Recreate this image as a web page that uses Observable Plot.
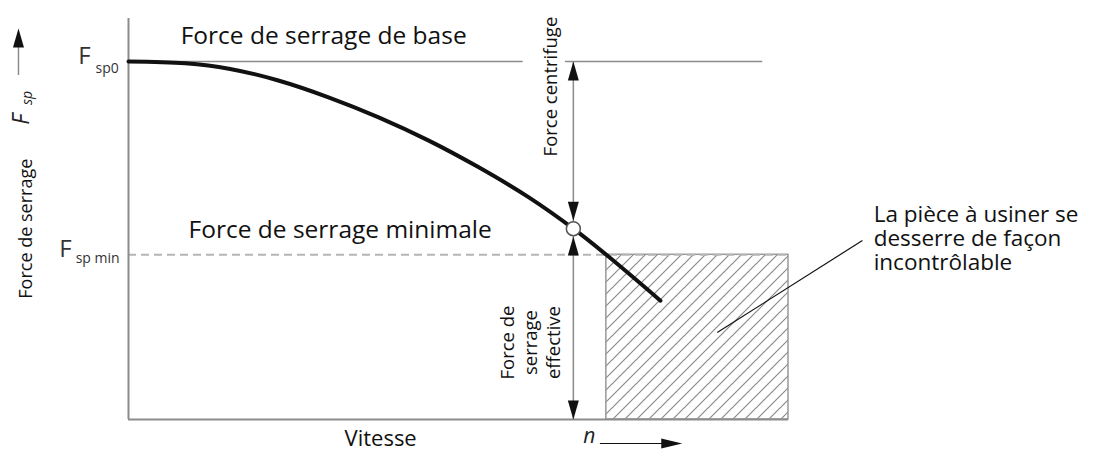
<!DOCTYPE html>
<html>
<head>
<meta charset="utf-8">
<script src="https://cdn.jsdelivr.net/npm/d3@7"></script>
<script src="https://cdn.jsdelivr.net/npm/@observablehq/plot@0.6"></script>
<style>
  html, body { margin: 0; padding: 0; background: #fff; }
  #chart svg { display: block; }
</style>
</head>
<body>
<div id="chart"></div>
<script>
// Clamping force F_sp as a function of spindle speed n (schematic units, 0–100)
const speed = [0, 8.6, 15.2, 22.7, 30.3, 37.9, 45.5, 53.0, 60.6, 67.4, 72.4, 80.6];
const force = [100, 99.5, 98.0, 94.7, 90.0, 84.4, 77.9, 70.5, 62.1, 53.3, 46.0, 33.2];

const baseForce = 100;     // F_sp0
const minForce = 46;       // F_sp min
const critSpeed = 67.4;    // point where the curve reaches the dimension arrows
const critForce = 53.3;
const looseSpeed = 72.4;   // start of the uncontrolled zone
const speedMax = 100;

const curve = speed.map((n, i) => ({n, f: force[i]}));

// Text annotations (positions in chart units)
const labels = [
  {text: "Force de serrage de base", x: 7.9, y: 105.0, size: 24.5, anchor: "start", lh: 1},
  {text: "Force de serrage minimale", x: 9.1, y: 50.8, size: 24.5, anchor: "start", lh: 1},
  {text: "Vitesse", x: 38.2, y: -7.4, size: 22, anchor: "middle", lh: 1},
  {text: "La pièce à usiner se\ndesserre de façon\nincontrôlable", x: 112.9, y: 41.8, size: 22.5, anchor: "start", lh: 1.07}
];
const rotatedLabels = [
  {text: "Force de serrage", x: -15.7, y: 53.3, size: 18},
  {text: "Force centrifuge", x: 63.8, y: 93.0, size: 18.5},
  {text: "Force de\nserrage\neffective", x: 60.8, y: 21.5, size: 18.5}
];
// Labels F_sp0 and F_sp min (main letter + subscript)
const forceTicks = [
  {main: "F", sub: "sp0", x: -7.6, subX: -5.0, y: 99.4, subY: 96.9},
  {main: "F", sub: "sp min", x: -10.5, subX: -8.0, y: 45.5, subY: 43.85}
];

// Filled arrowheads, tip at the origin
const headUp = {draw(c) { c.moveTo(0, 0); c.lineTo(5.5, 19); c.lineTo(-5.5, 19); c.closePath(); }};
const headDown = {draw(c) { c.moveTo(0, 0); c.lineTo(5.5, -19); c.lineTo(-5.5, -19); c.closePath(); }};
const headRight = {draw(c) { c.moveTo(0, 0); c.lineTo(-21, -5); c.lineTo(-21, 5); c.closePath(); }};

const tipsUp = [{x: critSpeed, y: baseForce}, {x: critSpeed, y: 51.1}, {x: -16.67, y: 109.2}];
const tipsDown = [{x: critSpeed, y: 55.5}, {x: critSpeed, y: 0}];
const tipsRight = [{x: 83.9, y: -6.7}];

const grey = "#8c8c8c";
const ink = "#111";

const chart = Plot.plot({
  width: 1104,
  height: 451,
  marginLeft: 128,
  marginRight: 316,
  marginTop: 61,
  marginBottom: 32,
  x: {domain: [0, speedMax], axis: null},
  y: {domain: [0, baseForce], axis: null},
  style: {fontFamily: "'Open Sans', Lato, sans-serif", background: "#fff", color: ink},
  marks: [
    // uncontrolled zone
    Plot.rect([{x1: looseSpeed, x2: speedMax, y1: 0, y2: minForce}], {
      x1: "x1", x2: "x2", y1: "y1", y2: "y2", fill: "url(#hatch)", stroke: "#999", strokeWidth: 1.5
    }),
    // minimum clamping force
    Plot.ruleY([minForce], {x1: 0, x2: speedMax, stroke: "#b5b5b5", strokeWidth: 2, strokeDasharray: "8,5"}),
    // base clamping force, interrupted by the rotated label
    Plot.ruleY([baseForce], {x1: 0, x2: 59.8, stroke: grey, strokeWidth: 1.5}),
    Plot.ruleY([baseForce], {x1: 66.2, x2: 96.1, stroke: grey, strokeWidth: 1.5}),
    // axes
    Plot.ruleX([0], {y1: 0, y2: 112, stroke: grey, strokeWidth: 2}),
    Plot.ruleY([0], {x1: 0, x2: speedMax, stroke: grey, strokeWidth: 2}),
    // dimension line
    Plot.ruleX([critSpeed], {y1: 0, y2: baseForce, stroke: grey, strokeWidth: 1.5}),
    // axis direction arrows
    Plot.ruleX([-16.67], {y1: 96.1, y2: 104.5, stroke: grey, strokeWidth: 1.5}),
    Plot.ruleY([-6.7], {x1: 71.5, x2: 81.5, stroke: ink, strokeWidth: 1.2}),
    // clamping force curve
    Plot.line(curve, {x: "n", y: "f", curve: "catmull-rom", stroke: ink, strokeWidth: 4, strokeLinecap: "round"}),
    Plot.dot([{x: critSpeed, y: critForce}], {x: "x", y: "y", r: 7, fill: "#fff", stroke: "#555", strokeWidth: 1.5}),
    Plot.dot(tipsUp, {x: "x", y: "y", symbol: headUp, fill: ink, stroke: "none"}),
    Plot.dot(tipsDown, {x: "x", y: "y", symbol: headDown, fill: ink, stroke: "none"}),
    Plot.dot(tipsRight, {x: "x", y: "y", symbol: headRight, fill: ink, stroke: "none"}),
    // leader line to the note
    Plot.link([{x1: 89.2, y1: 24.3, x2: 111.2, y2: 50.0}], {x1: "x1", y1: "y1", x2: "x2", y2: "y2", stroke: ink, strokeWidth: 1.2}),
    // texts
    ...labels.map(d => Plot.text([d], {
      x: "x", y: "y", text: "text", fontSize: d.size, textAnchor: d.anchor, lineAnchor: "bottom",
      lineHeight: d.lh, fill: ink
    })),
    ...rotatedLabels.map(d => Plot.text([d], {
      x: "x", y: "y", text: "text", fontSize: d.size, rotate: -90, textAnchor: "middle",
      lineAnchor: "middle", lineHeight: 1.25, fill: ink
    })),
    Plot.text(forceTicks, {x: "x", y: "y", text: "main", fontSize: 24, textAnchor: "start", lineAnchor: "bottom", fill: "#333"}),
    Plot.text(forceTicks, {x: "subX", y: "subY", text: "sub", fontSize: 14, textAnchor: "start", lineAnchor: "bottom", fill: "#333"}),
    Plot.text([{t: "F", x: -15.1, y: 83.9}], {x: "x", y: "y", text: "t", fontSize: 23, fontStyle: "italic", rotate: -90, textAnchor: "middle", lineAnchor: "bottom", fill: "#222"}),
    Plot.text([{t: "sp", x: -14.6, y: 89.8}], {x: "x", y: "y", text: "t", fontSize: 14, fontStyle: "italic", rotate: -90, textAnchor: "middle", lineAnchor: "bottom", fill: "#222"}),
    Plot.text([{t: "n", x: 68.9, y: -6.7}], {x: "x", y: "y", text: "t", fontSize: 21, fontStyle: "italic", textAnchor: "start", lineAnchor: "bottom", fill: "#222"})
  ]
});

chart.insertAdjacentHTML("afterbegin",
  `<defs><pattern id="hatch" patternUnits="userSpaceOnUse" width="12" height="12">
     <path d="M-3,3 L3,-3 M0,12 L12,0 M9,15 L15,9" stroke="#8a8a8a" stroke-width="1.2" fill="none"/>
   </pattern></defs>`);

document.getElementById("chart").appendChild(chart);
</script>
</body>
</html>
